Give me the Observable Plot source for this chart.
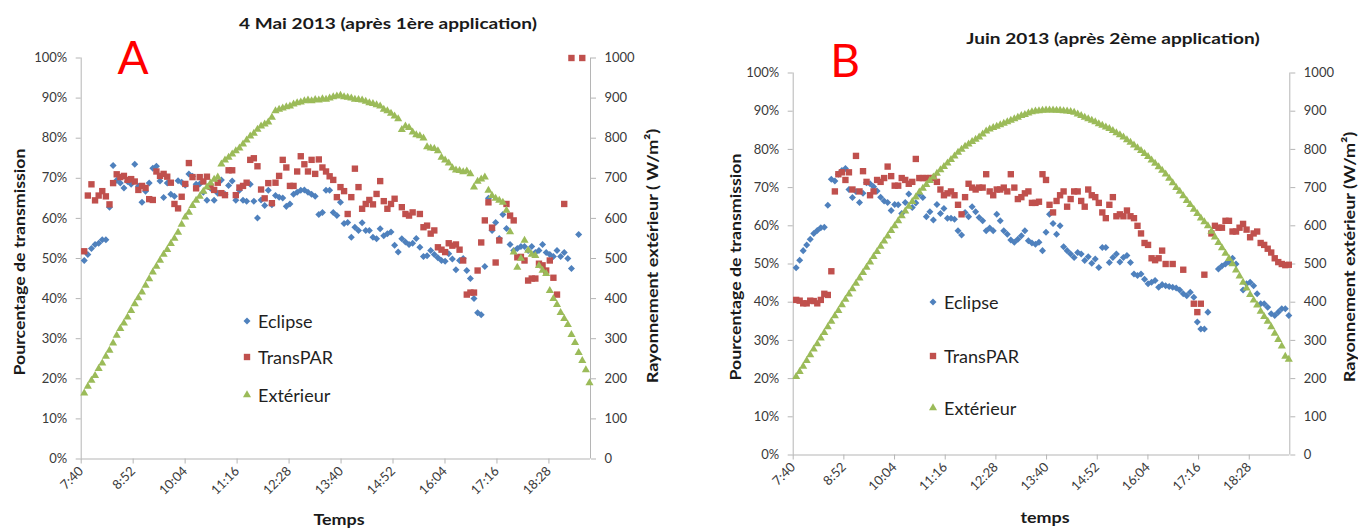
<!DOCTYPE html>
<html><head><meta charset="utf-8">
<script src="https://cdn.jsdelivr.net/npm/d3@7"></script>
<script src="https://cdn.jsdelivr.net/npm/@observablehq/plot@0.6"></script>
<style>
body{margin:0;background:#fff;font-family:Lato,"Open Sans",sans-serif;}
#page{position:relative;width:1358px;height:528px;overflow:hidden;background:#fff;}
.abs{position:absolute;white-space:nowrap;line-height:1;}
.panel{position:absolute;top:0;}
</style></head>
<body><div id="page"></div>
<script>
// ---------- data ----------
const seriesNames = ["Eclipse", "TransPAR", "Extérieur"];
const seriesColors = ["#4F81BD", "#C0504D", "#9BBB59"];
const firstSampleMinute = 465;   // 7:45
const sampleStepMinutes = 5;
const xTickDays = [0.32, 0.37, 0.42, 0.47, 0.52, 0.57, 0.62, 0.67, 0.72, 0.77];
const xTickLabels = ["7:40", "8:52", "10:04", "11:16", "12:28", "13:40", "14:52", "16:04", "17:16", "18:28"];
const xDomainDays = [0.32, 0.81];
const pctTicks = [0, 10, 20, 30, 40, 50, 60, 70, 80, 90, 100];
const wattTicks = [0, 100, 200, 300, 400, 500, 600, 700, 800, 900, 1000];

// Panel A : 4 Mai 2013
const mayEclipse = [
 49.5,51,52.5,53.5,53.8,54.7,54.7,62.8,73.2,69.5,
 68.8,67.6,69.2,68.5,73.5,68,64,66.8,68.8,72.5,
 73,69.3,65.2,68.8,66,65.5,69.4,69,68.3,71.1,
 70.5,68.5,68.6,66.5,64.5,67.5,64.5,66.3,69.6,66,
 68.2,69.3,64.5,67,64.5,64.3,68.5,64.3,60.1,64.6,
 63.2,67,63.4,65.7,65.3,65.1,63,63.6,66,66.5,
 67,67.1,66.5,66,65.5,61,61.5,67,67,61.5,
 60.7,64,58.7,59,55.3,57.8,57,58.9,57,57,
 55.3,54.9,57.4,55.7,56.2,56.6,53.3,51.6,54.9,54.1,
 53.5,53.8,55,52.8,50.5,50.7,52,51,50.2,49.5,
 49.3,51.2,49.9,47.2,49.5,50,47,45,40,36.5,
 36,48,65,57,59,55,61,57.5,53.5,52,
 52.5,53,53,52,53,51.5,52,53.5,51.5,51,
 50.5,52,50.5,51.5,50,47.5,null,56,null,null,null];
const mayTransPAR = [
 51.8,65.7,68.5,64.5,65.7,66.8,65.5,63.5,68.8,71,
 70.3,70.6,69.6,69.8,69.2,67.1,68.1,67.6,64.8,64.6,
 71.7,70.6,71.1,70.4,68.9,63.6,62.5,65.4,68.6,73.8,
 70.3,67.5,70.3,69.2,70.4,67.9,67.1,68.9,66.3,65.8,
 72,72,65.8,67.7,68.1,68.9,74.6,75,73,67.2,
 65,68.8,63.8,68.9,70.6,74.6,72.7,68.1,68.1,71.7,
 75.5,73.5,71.7,74.6,71.1,74.7,72.7,71.7,70.5,69.6,
 65.3,67.8,66.8,61.1,65.3,72.4,67.8,62.4,63.6,64.6,
 63.5,66.1,69.3,64.3,62.4,63.6,64.9,null,62.8,61.1,
 60.7,61.5,null,61.1,57.8,58.2,56.2,57,52.8,52.2,
 51.6,53.8,53.2,53.5,52.2,49.5,41,41.5,41.5,47,
 54,59.5,64,57.7,49,54.5,null,63.6,60.7,59.5,
 50.3,50.4,49.5,44.5,45,45,48.7,48.3,47,49.5,
 45.2,41,null,63.6,null,100,null,null,100,null,null];
const mayExterieur = [
 164,181,196,208,225,239,256,271,289,308,
 325,339,354,370,387,402,416,433,449,466,
 480,495,510,522,537,550,565,585,603,615,
 632,645,655,667,678,688,697,703,735,745,
 752,760,768,775,785,795,805,812,822,830,
 835,840,852,868,872,875,878,880,885,888,
 890,893,895,893,896,895,898,897,900,903,
 905,907,903,902,900,897,896,895,892,888,
 886,883,880,872,868,862,855,848,821,830,
 826,815,808,806,800,778,775,774,768,752,
 745,738,726,720,719,716,718,711,678,692,
 698,703,670,657,650,645,640,620,566,516,
 478,500,545,520,510,507,482,470,462,420,
 400,385,365,350,335,310,290,265,245,222,190];

// Panel B : Juin 2013
const juneEclipse = [
 49,51,53.5,55,56.5,58,58.8,59.5,59.6,65.4,
 72.2,71.7,73.5,74.5,75,69.5,67.4,69,66.1,68.5,
 71.3,71,70.2,69.1,67.5,66.5,66.1,64,65.6,65.5,
 63.2,66.1,68.3,64.8,66,68.3,67.4,62.4,63.7,61.5,
 65.6,63.2,64.5,62,62,61.7,58.7,57.6,63.5,62.4,
 65,63.7,62.2,61.3,58.7,59.4,58.7,63,61.3,58.7,
 57.8,56.3,55.7,56.5,57.4,58.7,56.1,55.5,55.2,55.7,
 53.5,58.3,63,60.6,57.8,60,54.5,53.5,52.6,51.7,
 53,52.6,50.9,51.9,50.2,51.3,49.1,54.3,54.3,50.4,
 51.7,52.6,50.5,51.7,52.2,50.4,47.4,47,47.4,46,
 44.8,45.2,45.7,43.9,44.6,44.3,44.1,43.9,43.7,43.2,
 42.2,41.7,42.6,41.3,34.8,33,33,37.4,null,null,
 48.7,49.5,50,50.5,51.5,50,null,43.2,44.8,45.2,
 44.3,42.2,39.6,39.6,38.7,37,36.5,37.4,38.3,38.3,36.5];
const juneTransPAR = [
 40.6,40.4,39.7,39.7,40.4,40.3,39.7,40.6,42.2,41.9,
 48.1,69,73.5,74,72,74,69.5,78.3,69,74.3,
 71.5,68,69,72,71.5,72.5,75.5,73,70.5,70.5,
 72.5,72,71,71.5,77.5,72.5,72.5,72.5,72.5,72.5,
 71.5,69.5,68,68.5,69,68,65.5,63,67.5,71,
 70,69.5,70,70,73.5,69,68,69.5,69.5,70,
 69,73.5,70,67,67.5,68.5,69,66,66,66.3,
 73.5,72,65.5,63.5,66.5,68,69,65,67,69,
 69,66.5,65,69.5,68,67.5,66,63.5,62,65.5,
 67.5,62.5,63,62.5,64,62.5,62,60,58,55.5,
 55,51.5,51,51.5,53.5,50,null,50,null,null,
 48.5,null,null,39.6,37.4,39.6,47.2,null,58,60,
 59.5,59.5,61.3,61.3,58.5,58.5,59.5,60.5,59,57,
 58,58.5,55.5,55,54,53,51.5,50.5,50,49.7,49.8];
const juneExterieur = [
 205,218,232,247,262,277,291,306,320,335,
 350,364,378,393,407,421,435,449,463,477,
 491,505,519,532,546,560,573,587,600,613,
 626,638,651,663,675,688,698,708,718,727,
 737,746,755,764,773,782,792,800,808,814,
 820,826,832,840,848,853,857,860,864,868,
 872,876,880,884,888,891,895,898,900,901,
 902,903,903,903,902,902,901,900,899,897,
 892,888,884,880,876,872,867,863,858,854,
 849,843,838,832,825,818,811,804,797,789,
 781,772,763,754,745,735,724,712,700,690,
 678,666,655,643,632,620,610,600,585,570,
 556,542,528,514,500,484,468,452,437,420,
 405,392,376,362,350,335,318,302,285,258,250];

const panels = [
  {title: "4 Mai 2013 (après 1ère application)", letter: "A", xLabel: "Temps",
   yLabel: "Pourcentage de transmission", y2Label: "Rayonnement extérieur ( W/m²)",
   eclipse: mayEclipse, transpar: mayTransPAR, ext: mayExterieur},
  {title: "Juin 2013 (après 2ème application)", letter: "B", xLabel: "temps",
   yLabel: "Pourcentage de transmission", y2Label: "Rayonnement extérieur (W/m²)",
   eclipse: juneEclipse, transpar: juneTransPAR, ext: juneExterieur}
];

// ---------- layout (styles only) ----------
const layouts = [
  {left: 0, width: 680, mL: 80.7, mR: 90, mT: 57.5, mB: 69.5,
   titleX: 388, titleY: 23, letterX: 133, letterY: 57,
   yLabX: 19, yLabY: 262, y2LabX: 652, y2LabY: 256, xLabX: 339, xLabY: 519,
   legX: 246.5, legTextX: 258, legY: [321, 357, 395]},
  {left: 680, width: 678, mL: 112.7, mR: 68.7, mT: 72.5, mB: 73.5,
   titleX: 1113, titleY: 38, letterX: 845, letterY: 60,
   yLabX: 735, yLabY: 267, y2LabX: 1349, y2LabY: 257, xLabX: 1045, xLabY: 517,
   legX: 933, legTextX: 944, legY: [302, 356, 408]}
];

const page = document.getElementById("page");
const axisGray = "#b5b5b5";
const tickText = "#3a3a3a";
const symbolDefs = [
  {symbol: "square", rotate: 45, r: 2.8},
  {symbol: "square", rotate: 0, r: 3.6},
  {symbol: "triangle", rotate: 0, r: 3.0}
];

function addText(txt, cx, cy, opts) {
  const d = document.createElement("div");
  d.className = "abs";
  d.textContent = txt;
  d.style.left = cx + "px";
  d.style.top = cy + "px";
  d.style.fontSize = (opts.size || 15) + "px";
  d.style.fontWeight = opts.weight || "normal";
  d.style.color = opts.color || "#1a1a1a";
  d.style.transform = `translate(-50%,-50%) rotate(${opts.rotate || 0}deg) scaleX(${opts.stretch || 1})`;
  page.appendChild(d);
}

panels.forEach((p, k) => {
  const L = layouts[k];
  const rows = p.eclipse.map((_, i) => ({
    t: (firstSampleMinute + sampleStepMinutes * i) / 1440,
    eclipse: p.eclipse[i], transpar: p.transpar[i], ext: p.ext[i]
  }));
  const svg = Plot.plot({
    width: L.width, height: 528,
    marginLeft: L.mL, marginRight: L.mR, marginTop: L.mT, marginBottom: L.mB,
    style: {fontFamily: "Lato, 'Open Sans', sans-serif", fontSize: "13px", background: "transparent", overflow: "visible"},
    x: {domain: xDomainDays},
    y: {domain: [0, 100]},
    marks: [
      Plot.ruleX([xDomainDays[0]], {stroke: axisGray}),
      Plot.ruleX([xDomainDays[1]], {stroke: axisGray}),
      Plot.ruleY([0], {stroke: axisGray}),
      Plot.axisY(pctTicks, {anchor: "left", tickSize: 5, tickPadding: 9, stroke: axisGray, fill: tickText,
        tickFormat: d => d + "%", label: null}),
      Plot.axisY(pctTicks, {anchor: "right", tickSize: 5, tickPadding: 9, stroke: axisGray, fill: tickText,
        tickFormat: d => String(wattTicks[pctTicks.indexOf(d)]), label: null}),
      Plot.axisX(xTickDays, {anchor: "bottom", tickSize: 5, tickPadding: 5, tickRotate: -45, stroke: axisGray, fill: tickText,
        tickFormat: d => xTickLabels[xTickDays.indexOf(d)], label: null}),
      Plot.dot(rows.filter(d => d.eclipse != null), {x: "t", y: "eclipse",
        symbol: symbolDefs[0].symbol, rotate: symbolDefs[0].rotate, r: symbolDefs[0].r, fill: seriesColors[0], stroke: null}),
      Plot.dot(rows.filter(d => d.transpar != null), {x: "t", y: "transpar",
        symbol: symbolDefs[1].symbol, r: symbolDefs[1].r, fill: seriesColors[1], stroke: null}),
      Plot.dot(rows.filter(d => d.ext != null), {x: "t", y: d => d.ext / 10,
        symbol: symbolDefs[2].symbol, r: symbolDefs[2].r, fill: seriesColors[2], stroke: null})
    ]
  });
  const holder = document.createElement("div");
  holder.className = "panel";
  holder.style.left = L.left + "px";
  holder.appendChild(svg);
  page.appendChild(holder);

  addText(p.title, L.titleX, L.titleY, {size: 16, weight: "bold", stretch: 1.19});
  addText(p.letter, L.letterX, L.letterY, {size: 46, color: "#ff0000"});
  addText(p.yLabel, L.yLabX, L.yLabY, {size: 16, weight: "bold", rotate: -90, stretch: 1.11});
  addText(p.y2Label, L.y2LabX, L.y2LabY, {size: 16, weight: "bold", rotate: -90, stretch: 1.13});
  addText(p.xLabel, L.xLabX, L.xLabY, {size: 16, weight: "bold", stretch: 1.12});

  // legend
  seriesNames.forEach((name, j) => {
    const s = document.createElementNS("http://www.w3.org/2000/svg", "svg");
    s.setAttribute("width", 14); s.setAttribute("height", 14);
    s.style.position = "absolute";
    s.style.left = (L.legX - 7) + "px";
    s.style.top = (L.legY[j] - 7) + "px";
    const sym = symbolDefs[j];
    const type = sym.symbol === "triangle" ? d3.symbolTriangle : d3.symbolSquare;
    const path = document.createElementNS("http://www.w3.org/2000/svg", "path");
    path.setAttribute("d", d3.symbol(type, Math.PI * sym.r * sym.r)());
    path.setAttribute("transform", `translate(7,7) rotate(${sym.rotate})`);
    path.setAttribute("fill", seriesColors[j]);
    s.appendChild(path);
    page.appendChild(s);
    const t = document.createElement("div");
    t.className = "abs";
    t.textContent = name;
    t.style.left = L.legTextX + "px";
    t.style.top = L.legY[j] + "px";
    t.style.fontSize = "17px";
    t.style.color = "#1f1f1f";
    t.style.transformOrigin = "0 50%";
    t.style.transform = "translate(0,-50%) scaleX(1.06)";
    page.appendChild(t);
  });
});
</script></body></html>
